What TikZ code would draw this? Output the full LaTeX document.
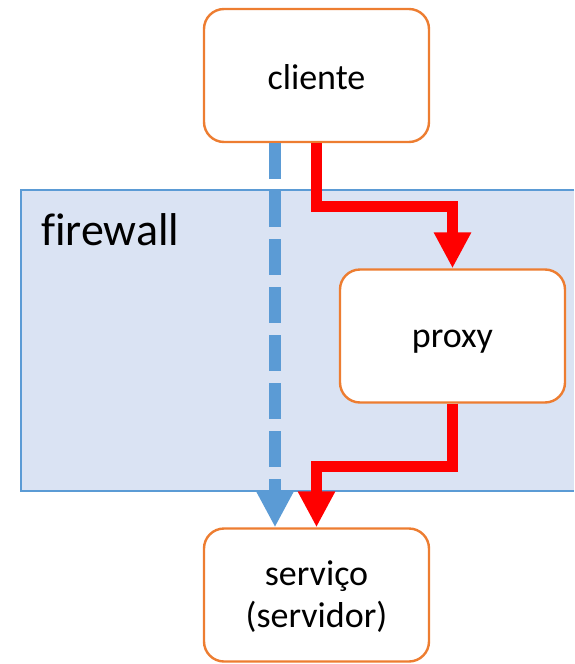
\documentclass[tikz,border=0pt]{standalone}
\usepackage{fontspec}
\setmainfont{Carlito}[Ligatures=NoCommon]
\usetikzlibrary{arrows.meta}
\definecolor{boxorange}{HTML}{ED7D31}
\definecolor{fwfill}{HTML}{DAE3F3}
\definecolor{fwline}{HTML}{5B9BD5}
\definecolor{direct}{HTML}{5B9BD5}
\definecolor{viaproxy}{HTML}{FF0000}
\begin{document}
\begin{tikzpicture}[x=1pt,y=-1pt,
  box/.style={draw=boxorange, line width=2.4pt, fill=white, rounded corners=20pt,
    minimum width=225pt, minimum height=133pt, inner sep=0pt},
  lbl/.style={font=\fontsize{36}{42}\selectfont, inner sep=0pt, anchor=base},
  flow/.style={line width=11.5pt, -{Triangle[width=35pt,length=36pt]}},
]
\useasboundingbox (0,0) rectangle (574,664);

% firewall zone (open on the right side)
\node[fill=fwfill, minimum width=553pt, minimum height=301pt, inner sep=0pt,
      anchor=north west, outer sep=0pt] (firewall) at (21,190) {};
\draw[fwline, line width=2.4pt] (firewall.north east) -- (firewall.north west)
  -- (firewall.south west) -- (firewall.south east);
% the kern keeps "f" and "i" as separate glyphs
\node[lbl, font=\fontsize{46}{50}\selectfont, anchor=base west] (fwlabel) at (41,245) {f\kern0pt irewall};

% boxes
\node[box] (cliente) at (316.5,75.5) {};
\node[lbl] (clientetext) at (316.5,89) {cliente};
\node[box] (proxy) at (452.5,336) {};
\node[lbl] (proxytext) at (452.5,347.5) {proxy};
\node[box] (servico) at (316.5,595) {};
\node[lbl] (servicotext) at (316.5,585) {serviço};
\node[lbl] (servidortext) at (316.5,627) {(servidor)};

% path through the proxy
\coordinate (turnA) at (452.5,206.5);
\coordinate (turnB) at (316.5,466.5);
\draw[flow, viaproxy] (cliente.south) |- (turnA) -- (proxy.north);
\draw[flow, viaproxy] (proxy.south) |- (turnB) -- (servico.north);

% direct path, crossing the firewall
\draw[flow, direct, line width=12pt, dash pattern=on 36pt off 12pt]
  ([xshift=-41.5pt]cliente.south) -- ([xshift=-41.5pt]servico.north);
\end{tikzpicture}
\end{document}
